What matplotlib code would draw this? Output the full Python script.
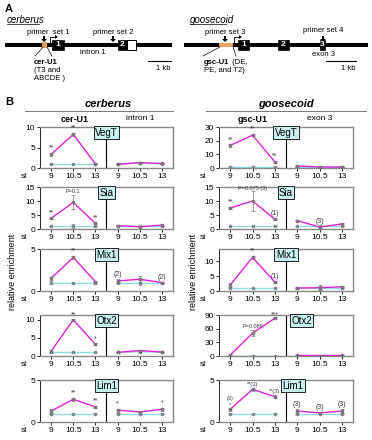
import matplotlib
matplotlib.use("Agg")
import matplotlib.pyplot as plt
from matplotlib.patches import Rectangle, Polygon

plt.rcParams["font.family"] = ["Liberation Sans", "DejaVu Sans"]

W, H = 372, 440

STAGES = ["9", "10.5", "13"]
FACTORS = ["VegT", "Sia", "Mix1", "Otx2", "Lim1"]

# each row: 3 stages at the upstream element, then 3 stages at the control region
CER_SIGNAL = [
    [3.3, 8.2, 1.0, 0.9, 1.3, 1.1],
    [3.8, 9.5, 2.0, 1.2, 0.8, 1.4],
    [1.5, 4.0, 1.1, 1.2, 1.4, 1.0],
    [1.3, 10.0, 3.2, 1.0, 1.5, 1.1],
    [1.3, 2.7, 1.8, 1.4, 1.2, 1.5],
]
CER_SIGNAL_ERR = [
    [0.3, 0.4, 0.1, 0.1, 0.2, 0.1],
    [0.3, 2.5, 0.2, 0.1, 0.1, 0.2],
    [0.2, 0.15, 0.1, 0.2, 0.4, 0.05],
    [0.4, 0.3, 0.3, 0.1, 0.2, 0.1],
    [0.2, 0.15, 0.15, 0.15, 0.1, 0.15],
]
CER_CONTROL = [
    [1.0, 1.0, 1.0, 1.0, 1.2, 1.0],
    [1.0, 1.0, 1.0, 1.0, 1.0, 1.0],
    [1.0, 1.0, 1.0, 1.0, 1.0, 1.0],
    [1.0, 1.0, 1.0, 1.0, 1.2, 1.0],
    [1.0, 1.0, 1.0, 1.0, 1.0, 1.0],
]
CER_CONTROL_ERR = [
    [0.1, 0.05, 0.05, 0.1, 0.2, 0.05],
    [0.1, 0.8, 0.1, 0.1, 0.1, 0.1],
    [0.2, 0.05, 0.1, 0.1, 0.3, 0.05],
    [0.1, 0.05, 0.05, 0.1, 0.2, 0.05],
    [0.05, 0.05, 0.05, 0.1, 0.2, 0.05],
]
CER_YMAX = [10, 15, 5, 11.3, 5]
CER_YTICKS = [[0, 5, 10], [0, 5, 10, 15], [0, 5], [0, 5, 10], [0, 5]]
CER_MARKS = [
    [(0, "**"), (1, "**")],
    [(0, "**"), (1, "P=0.1"), (2, "**")],
    [(1, "**"), (3, "(2)"), (5, "(2)")],
    [(1, "**"), (2, "*")],
    [(1, "**"), (2, "**"), (3, "*"), (5, "*")],
]

GSC_SIGNAL = [
    [16.5, 24.0, 4.5, 1.5, 0.8, 0.7],
    [7.5, 10.0, 3.5, 3.0, 0.7, 1.8],
    [2.0, 11.2, 3.0, 1.0, 1.1, 1.4],
    [2.0, 50.0, 83.0, 1.2, 1.0, 1.2],
    [1.5, 3.9, 3.0, 1.3, 1.1, 1.3],
]
GSC_SIGNAL_ERR = [
    [0.8, 0.8, 0.5, 0.3, 0.2, 0.2],
    [0.5, 3.5, 0.2, 0.3, 0.3, 0.2],
    [0.8, 0.4, 0.3, 0.2, 0.8, 0.2],
    [1.5, 6.0, 2.0, 0.5, 0.5, 0.5],
    [0.15, 0.15, 0.2, 0.2, 0.1, 0.2],
]
GSC_CONTROL = [
    [1.0, 1.0, 1.0, 1.0, 1.0, 1.0],
    [1.0, 1.0, 1.0, 1.0, 1.0, 1.0],
    [1.0, 1.0, 1.0, 1.0, 1.0, 1.0],
    [1.0, 1.0, 1.0, 1.0, 1.0, 1.0],
    [1.0, 1.0, 1.0, 1.0, 1.0, 1.0],
]
GSC_CONTROL_ERR = [
    [0.3, 0.3, 0.3, 0.3, 0.3, 0.3],
    [0.1, 0.1, 0.1, 0.1, 0.1, 0.1],
    [0.1, 0.1, 0.1, 0.1, 0.8, 0.1],
    [0.3, 0.3, 0.3, 0.3, 0.3, 0.3],
    [0.1, 0.05, 0.05, 0.2, 0.1, 0.1],
]
GSC_YMAX = [30, 15, 14, 90, 5]
GSC_YTICKS = [[0, 10, 20, 30], [0, 5, 10, 15], [0, 5, 10], [0, 30, 60, 90], [0, 5]]
GSC_MARKS = [
    [(0, "**"), (1, "**"), (2, "**")],
    [(0, "**"), (1, "P=0.075 (3)"), (2, "(1)"), (4, "(3)")],
    [(1, "**"), (2, "(1)")],
    [(1, "P=0.089"), (2, "***")],
    [(0, "(3)\n*"), (1, "**(3)"), (2, "**(3)"), (3, "(3)"), (4, "(3)"), (5, "(3)")],
]
GSC_LABEL_SHIFT = [0, 0, 0, 0.7, 0.3]

MAGENTA = "#e021d8"
CYAN = "#8fdde3"
BOX_FILL = "#c8f0ee"
ORANGE = "#e8a060"

# panel rows: (top, bottom) in pixels
ROWS = [(127, 168), (187, 229), (249, 291), (315, 356), (380, 422)]
LEFT_COL = (40, 173)
RIGHT_COL = (219, 353)


def px_box(x0, x1, top, bottom):
    return [x0 / W, 1 - bottom / H, (x1 - x0) / W, (bottom - top) / H]


fig = plt.figure(figsize=(W / 100, H / 100), dpi=100)
bg = fig.add_axes([0, 0, 1, 1], zorder=-5)
bg.set_xlim(0, W)
bg.set_ylim(H, 0)
bg.axis("off")

# ---------- panel A: gene diagrams ----------
bg.text(5, 9, "A", fontsize=8, fontweight="bold", va="center")
bg.text(7, 20, "cerberus", fontsize=7, style="italic", va="center")
bg.plot([7, 39], [24, 24], color="black", lw=0.5)
bg.text(190, 20, "goosecoid", fontsize=7, style="italic", va="center")
bg.plot([190, 226], [24, 24], color="black", lw=0.5)

GENE_Y = 45
for x0, x1 in [(5, 172), (184, 368)]:
    bg.add_patch(Rectangle((x0, GENE_Y - 2), x1 - x0, 4, color="black", lw=0))

# exons (start, end, label) and white UTR part
for x0, x1, lab in [(52, 64, "1"), (118, 127, "2"), (238, 249, "1"), (278, 289, "2"), (320, 325, "3")]:
    bg.add_patch(Rectangle((x0, GENE_Y - 5), x1 - x0, 10, facecolor="black", edgecolor="black", lw=0.5))
    bg.text((x0 + x1) / 2, GENE_Y, lab, color="white", fontsize=6, ha="center", va="center", fontweight="bold")
bg.add_patch(Rectangle((127, GENE_Y - 5), 9, 10, facecolor="white", edgecolor="black", lw=0.7))

# upstream elements
bg.add_patch(Rectangle((42, GENE_Y - 3), 5, 6, facecolor=ORANGE, edgecolor="none"))
bg.add_patch(Rectangle((219, GENE_Y - 2), 14, 4, facecolor=ORANGE, edgecolor="none"))

# transcription start arrows
for xs in [50, 234]:
    bg.plot([xs, xs, xs + 5], [GENE_Y - 1, GENE_Y - 8, GENE_Y - 8], color="black", lw=0.6)
    bg.add_patch(Polygon([(xs + 5, GENE_Y - 10), (xs + 5, GENE_Y - 6), (xs + 8, GENE_Y - 8)], color="black", lw=0))

# primer arrows and labels
for xa, lab, ly in [(44, "primer  set 1", 33), (113, "primer set 2", 33), (225, "primer set 3", 33), (323, "primer set 4", 30)]:
    bg.add_patch(Polygon([(xa - 1, GENE_Y - 9), (xa + 1, GENE_Y - 9), (xa + 1, GENE_Y - 6), (xa + 3, GENE_Y - 6),
                          (xa, GENE_Y - 3), (xa - 3, GENE_Y - 6), (xa - 1, GENE_Y - 6)], color="black", lw=0))
    bg.text(xa + 4 if xa < 100 else xa, ly, lab, fontsize=5.5, ha="center", va="center")

bg.plot([43, 35], [GENE_Y + 2, GENE_Y + 11], color="black", lw=0.5)
bg.plot([47, 52], [GENE_Y + 2, GENE_Y + 11], color="black", lw=0.5)
bg.plot([220, 203], [GENE_Y + 2, GENE_Y + 11], color="black", lw=0.5)
bg.plot([233, 236], [GENE_Y + 2, GENE_Y + 11], color="black", lw=0.5)

bg.text(34, 63, "cer-U1", fontsize=5.5, fontweight="bold", va="center")
bg.text(34, 71, "(T3 and", fontsize=5.5, va="center")
bg.text(34, 79, "ABCDE )", fontsize=5.5, va="center")
bg.text(80, 53, "intron 1", fontsize=5.5, va="center")
bg.text(204, 62, "gsc-U1", fontsize=5.5, fontweight="bold", va="center")
bg.text(230, 62, " (DE,", fontsize=5.5, va="center")
bg.text(204, 71, "PE, and T2)", fontsize=5.5, va="center")
bg.text(323, 54, "exon 3", fontsize=5.5, ha="center", va="center")

for x0, x1 in [(148, 171), (326, 356)]:
    bg.plot([x0, x1], [61, 61], color="black", lw=0.8)
    bg.text(x1 - 8, 68, "1 kb", fontsize=5.5, ha="center", va="center")

# ---------- panel B: ChIP enrichment ----------
bg.text(5, 102, "B", fontsize=8, fontweight="bold", va="center")
bg.text(108, 104, "cerberus", fontsize=8, fontweight="bold", style="italic", ha="center", va="center")
bg.plot([25, 173], [111, 111], color="#777777", lw=0.7)
bg.text(286, 104, "goosecoid", fontsize=8, fontweight="bold", style="italic", ha="center", va="center")
bg.plot([206, 366], [111, 111], color="#777777", lw=0.7)
bg.text(75, 119, "cer-U1", fontsize=6.5, fontweight="bold", ha="center", va="center")
bg.text(140, 119, "intron 1", fontsize=6, ha="center", va="center")
bg.text(253, 119, "gsc-U1", fontsize=6.5, fontweight="bold", ha="center", va="center")
bg.text(320, 119, "exon 3", fontsize=6, ha="center", va="center")
bg.text(13, 272, "relative enrichment", fontsize=6.5, rotation=90, ha="center", va="center")
bg.text(193, 272, "relative enrichment", fontsize=6.5, rotation=90, ha="center", va="center")


def draw_panel(col, row, factor, signal, sig_err, control, ctrl_err, ymax, yticks, marks, shift):
    top, bottom = ROWS[row]
    ax = fig.add_axes(px_box(col[0], col[1], top, bottom))
    for half in (0, 1):
        xs = [half * 3 + i for i in range(3)]
        ax.errorbar(xs, control[half * 3:half * 3 + 3], yerr=ctrl_err[half * 3:half * 3 + 3],
                    color=CYAN, lw=1.0, marker="s", ms=1.8, mfc="#888888", mec="#888888",
                    ecolor="#888888", elinewidth=0.5, capsize=1.2, capthick=0.5, zorder=2)
        ax.errorbar(xs, signal[half * 3:half * 3 + 3], yerr=sig_err[half * 3:half * 3 + 3],
                    color=MAGENTA, lw=1.0, marker="s", ms=1.8, mfc=MAGENTA, mec="#777777",
                    ecolor="#777777", elinewidth=0.5, capsize=1.2, capthick=0.5, zorder=3)
    for idx, txt in marks:
        y = min(signal[idx] + sig_err[idx], ymax * 0.88)
        ax.annotate(txt, (idx, y), xytext=(0, 1.0), textcoords="offset points",
                    fontsize=4 if len(txt) > 3 else 5, ha="center", va="bottom", color="#333333")
    ax.axvline(2.5, color="black", lw=0.8)
    ax.set_xlim(-0.5, 5.5)
    ax.set_ylim(0, ymax)
    ax.set_yticks(yticks)
    ax.set_xticks(range(6))
    ax.set_xticklabels(STAGES + STAGES)
    ax.tick_params(labelsize=6, length=2, width=0.6, pad=1.5, direction="out")
    for side in ("top", "right", "bottom"):
        ax.spines[side].set_color("#888888")
        ax.spines[side].set_linewidth(1.0)
    ax.spines["left"].set_color("black")
    ax.spines["left"].set_linewidth(0.6)
    ax.text(-0.12, -0.2, "st", transform=ax.transAxes, fontsize=6, ha="center", va="center")
    ax.text(2.5 + shift, ymax * 0.86, factor, fontsize=7, ha="center", va="center", zorder=5,
            bbox=dict(boxstyle="square,pad=0.15", facecolor=BOX_FILL, edgecolor="black", lw=0.6))
    return ax


for r, factor in enumerate(FACTORS):
    draw_panel(LEFT_COL, r, factor, CER_SIGNAL[r], CER_SIGNAL_ERR[r], CER_CONTROL[r],
               CER_CONTROL_ERR[r], CER_YMAX[r], CER_YTICKS[r], CER_MARKS[r], 0)
    draw_panel(RIGHT_COL, r, factor, GSC_SIGNAL[r], GSC_SIGNAL_ERR[r], GSC_CONTROL[r],
               GSC_CONTROL_ERR[r], GSC_YMAX[r], GSC_YTICKS[r], GSC_MARKS[r], GSC_LABEL_SHIFT[r])

fig.savefig("out.png", dpi=100)
